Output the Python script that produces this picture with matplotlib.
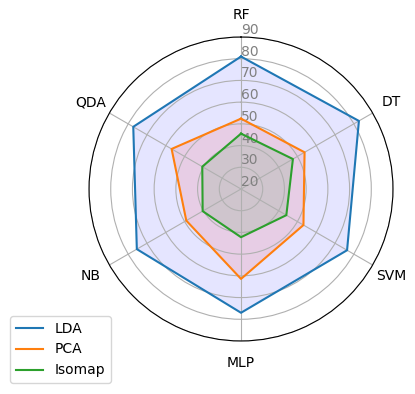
import numpy as np
import matplotlib
matplotlib.use("Agg")
import matplotlib.pyplot as plt

# categories (clockwise from top)
categories = ['RF', 'DT', 'SVM', 'MLP', 'NB', 'QDA']
lda = [81.0, 82.7, 76.4, 77.0, 75.4, 77.3]
pca = [52.4, 53.8, 53.2, 61.4, 49.1, 56.9]
isomap = [45.5, 47.6, 44.1, 42.2, 40.4, 40.6]
rticks = [20, 30, 40, 50, 60, 70, 80, 90]

N = len(categories)
angles = [n / float(N) * 2 * np.pi for n in range(N)]
angles += angles[:1]

fig = plt.figure(figsize=(4.15, 3.94), dpi=100)
ax = fig.add_axes([0.2145, 0.1345, 0.7325, 0.7716], polar=True)
ax.set_theta_offset(np.pi / 2)
ax.set_theta_direction(-1)

ax.set_xticks(angles[:-1])
ax.set_xticklabels(categories, fontsize=10)
ax.tick_params(axis='x', pad=5)
ax.set_rlabel_position(0)
ax.set_yticks(rticks)
ax.set_yticklabels([str(t) for t in rticks], color="grey", size=10)
ax.set_ylim(20, 90)

series = [(lda, 'LDA', 'b'), (pca, 'PCA', 'r'), (isomap, 'Isomap', 'g')]
for vals, name, fillc in series:
    v = vals + vals[:1]
    ax.plot(angles, v, linewidth=1.5, linestyle='solid', label=name)
    ax.fill(angles, v, fillc, alpha=0.1)

fig.legend(loc='lower left', bbox_to_anchor=(0.024, 0.028), borderaxespad=0)

plt.savefig('out.png', dpi=100)
